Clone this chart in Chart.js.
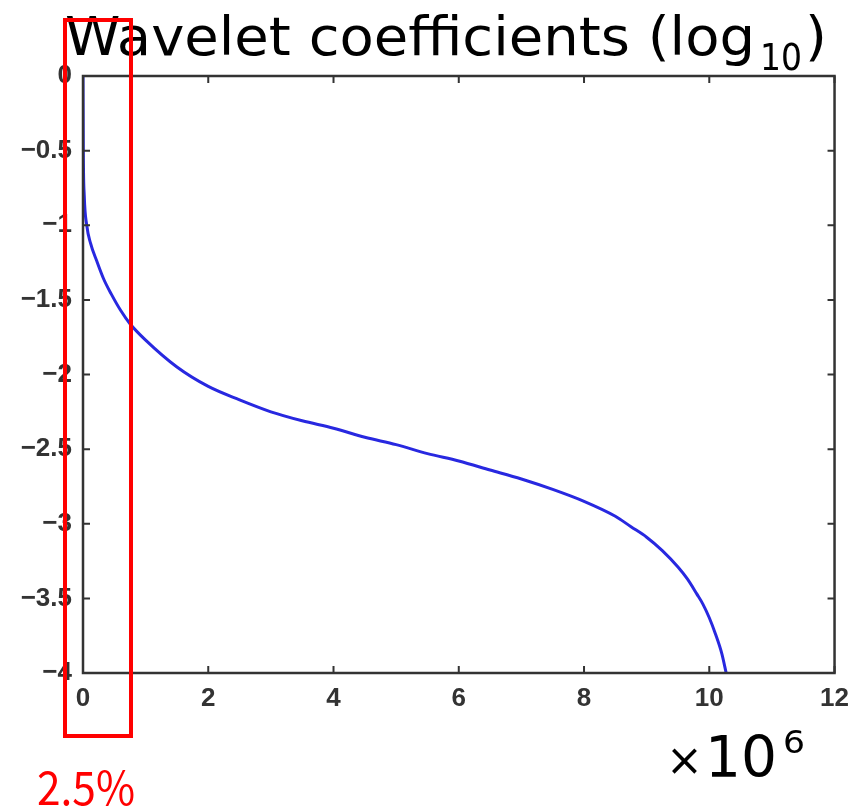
<!DOCTYPE html>
<html>
<head>
<meta charset="utf-8">
<script src="https://cdn.jsdelivr.net/npm/chart.js@4.4.1/dist/chart.umd.min.js"></script>
<style>
  html, body { margin: 0; padding: 0; background: #fff; }
  #wrap { width: 859px; height: 810px; position: relative; }
</style>
</head>
<body>
<div id="wrap"><canvas id="c"></canvas></div>
<script>
// sorted wavelet coefficients, x in units of 1e6, y = log10 magnitude
const xVals = [0, 0.005, 0.02, 0.06, 0.12, 0.22, 0.33, 0.45, 0.6, 0.75, 1.0, 1.5, 2.0, 2.5, 3.0, 3.5,
               4.0, 4.5, 5.0, 5.5, 6.0, 6.5, 7.0, 7.5, 8.0, 8.5, 8.75, 9.0, 9.25, 9.5, 9.65, 9.8, 9.9, 10.0, 10.1, 10.2, 10.27]
const yVals = [0, -0.5, -0.8, -1.0, -1.12, -1.24, -1.36, -1.46, -1.57, -1.66, -1.77, -1.95, -2.08, -2.17, -2.25, -2.31,
               -2.36, -2.42, -2.47, -2.53, -2.58, -2.64, -2.70, -2.77, -2.85, -2.95, -3.02, -3.09, -3.18, -3.29, -3.37, -3.47, -3.54, -3.63, -3.74, -3.87, -4.0]
const xTicks = [0, 2, 4, 6, 8, 10, 12]
const yTicks = [0, -0.5, -1, -1.5, -2, -2.5, -3, -3.5, -4]

const points = xVals.map((x, i) => ({x: x, y: yVals[i]}))

// text fitted to a given width (horizontal squeeze)
function fitText(ctx, txt, x, y, w) {
    let m = ctx.measureText(txt).width
    ctx.save()
    ctx.translate(x, y)
    ctx.scale(w / m, 1)
    ctx.fillText(txt, 0, 0)
    ctx.restore()
}

const extras = {
    id: 'extras',
    afterDraw(chart) {
        const ctx = chart.ctx
        const a = chart.chartArea
        const xs = chart.scales.x, ys = chart.scales.y
        ctx.save()
        // box
        ctx.strokeStyle = '#333'
        ctx.lineWidth = 2.5
        ctx.strokeRect(a.left, a.top, a.right - a.left, a.bottom - a.top)
        // inward ticks on all sides
        ctx.lineWidth = 2
        xTicks.forEach(t => {
            let px = xs.getPixelForValue(t)
            ctx.beginPath()
            ctx.moveTo(px, a.bottom); ctx.lineTo(px, a.bottom - 7)
            ctx.moveTo(px, a.top); ctx.lineTo(px, a.top + 7)
            ctx.stroke()
        })
        yTicks.forEach(t => {
            let py = ys.getPixelForValue(t)
            ctx.beginPath()
            ctx.moveTo(a.left, py); ctx.lineTo(a.left + 7, py)
            ctx.moveTo(a.right, py); ctx.lineTo(a.right - 7, py)
            ctx.stroke()
        })
        // title
        ctx.fillStyle = '#000'
        ctx.textBaseline = 'alphabetic'
        ctx.font = '54px "DejaVu Sans"'
        fitText(ctx, 'Wavelet coefficients (log', 65, 55, 690)
        ctx.font = '37px "DejaVu Sans"'
        fitText(ctx, '10', 760, 70, 42)
        ctx.font = '54px "DejaVu Sans"'
        fitText(ctx, ')', 805, 55, 22)
        // x10^6
        ctx.font = '44px "DejaVu Sans"'
        ctx.fillText('\u00d7', 666, 775)
        ctx.font = '57px "DejaVu Sans"'
        fitText(ctx, '10', 705, 777, 72)
        ctx.font = '32px "DejaVu Sans"'
        fitText(ctx, '6', 783, 753, 22)
        // red annotation
        ctx.strokeStyle = '#ff0000'
        ctx.lineWidth = 4
        ctx.strokeRect(65, 20, 66, 716)
        ctx.fillStyle = '#ff0000'
        ctx.font = '46px "Noto Sans CJK JP"'
        fitText(ctx, '2.5%', 37, 805, 98)
        ctx.restore()
    }
}

const tickFont = { family: 'Liberation Sans', weight: 'bold', size: 26 }

const chart = new Chart(document.getElementById('c'), {
    type: 'line',
    data: {
        datasets: [{
            data: points,
            borderColor: '#2828e0',
            borderWidth: 3,
            pointRadius: 0,
            fill: false,
            cubicInterpolationMode: 'monotone'
        }]
    },
    options: {
        responsive: true,
        maintainAspectRatio: false,
        animation: false,
        layout: { padding: { left: 0, right: 22, top: 76, bottom: 0 } },
        plugins: { legend: { display: false }, tooltip: { enabled: false } },
        scales: {
            x: {
                type: 'linear',
                min: 0, max: 12,
                grid: { display: false, drawTicks: false },
                border: { display: false },
                afterFit: (s) => { s.height = 137 },
                afterBuildTicks: (s) => { s.ticks = xTicks.map(v => ({value: v})) },
                ticks: {
                    autoSkip: false, maxRotation: 0, padding: 10,
                    color: '#333',
                    font: tickFont,
                    callback: (v) => String(v)
                }
            },
            y: {
                min: -4, max: 0,
                grid: { display: false, drawTicks: false },
                border: { display: false },
                afterFit: (s) => { s.width = 83 },
                afterBuildTicks: (s) => { s.ticks = yTicks.map(v => ({value: v})) },
                ticks: {
                    autoSkip: false, padding: 11,
                    color: '#333',
                    font: tickFont,
                    callback: (v) => String(v).replace('-', '\u2212')
                }
            }
        }
    },
    plugins: [extras]
})
</script>
</body>
</html>
